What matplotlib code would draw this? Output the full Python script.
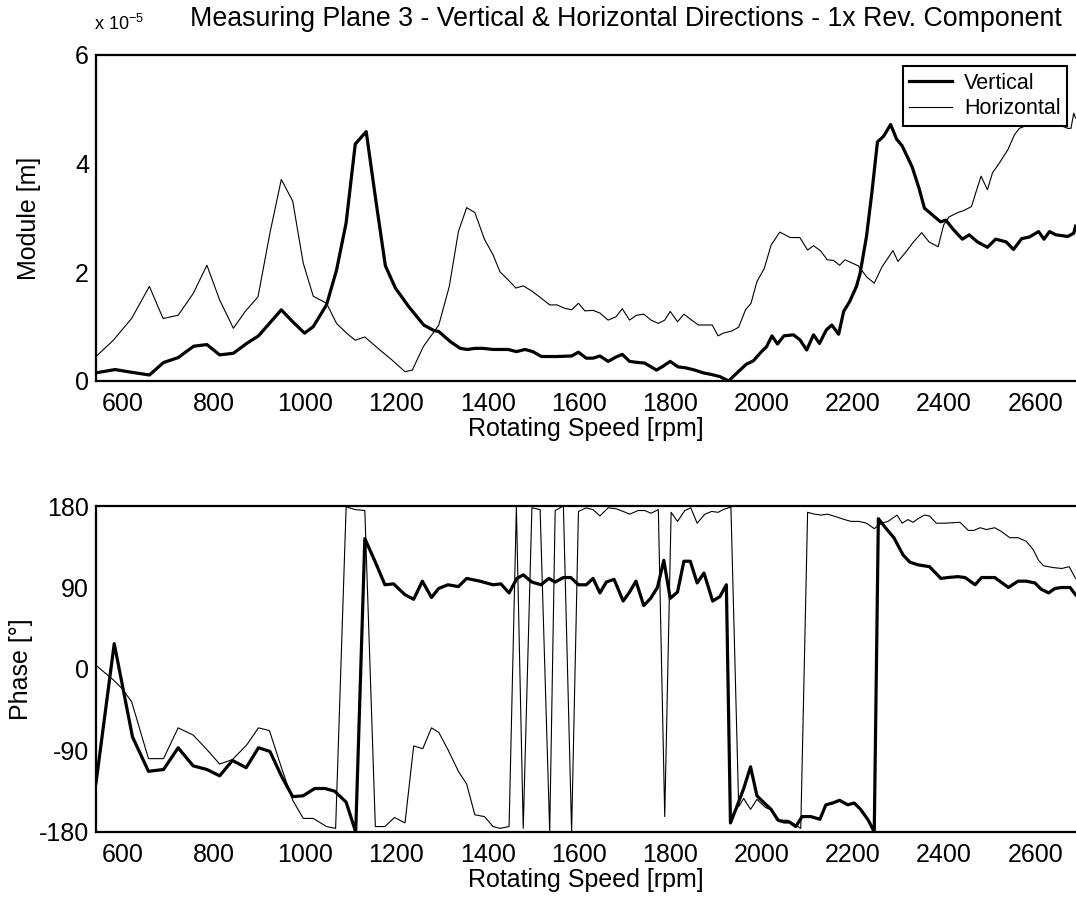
import matplotlib
matplotlib.use("Agg")
import matplotlib.pyplot as plt

plt.rcParams['font.family'] = ['Liberation Sans', 'DejaVu Sans']
plt.rcParams['axes.unicode_minus'] = False

# module, vertical direction (x 1e-5 m)
rpm_mod_v = [542, 584, 620, 659, 690, 722, 756, 785, 813, 843, 872, 898, 923, 948, 973, 999, 1018,
             1047, 1069, 1090, 1110, 1134, 1155, 1176, 1198, 1227, 1260, 1282, 1293, 1319, 1340,
             1356, 1372, 1390, 1412, 1445, 1463, 1482, 1499, 1518, 1552, 1584, 1599, 1616, 1631,
             1646, 1664, 1681, 1695, 1711, 1730, 1744, 1770, 1784, 1800, 1817, 1835, 1854, 1872,
             1890, 1909, 1928, 1949, 1967, 1982, 2000, 2011, 2023, 2035, 2049, 2070, 2084, 2099,
             2114, 2127, 2142, 2154, 2169, 2180, 2193, 2208, 2216, 2230, 2242, 2254, 2267, 2283,
             2296, 2308, 2330, 2345, 2357, 2374, 2392, 2404, 2420, 2440, 2455, 2473, 2495, 2513,
             2536, 2552, 2570, 2587, 2607, 2619, 2631, 2645, 2671, 2684, 2688]
mod_v = [0.15, 0.21, 0.16, 0.11, 0.34, 0.43, 0.64, 0.67, 0.48, 0.51, 0.69, 0.83, 1.07, 1.31, 1.09,
         0.88, 1.00, 1.40, 2.04, 2.91, 4.36, 4.59, 3.33, 2.12, 1.71, 1.37, 1.03, 0.93, 0.91, 0.72,
         0.60, 0.58, 0.60, 0.60, 0.58, 0.58, 0.54, 0.58, 0.54, 0.45, 0.45, 0.46, 0.53, 0.42, 0.42,
         0.46, 0.36, 0.44, 0.49, 0.36, 0.34, 0.33, 0.20, 0.27, 0.36, 0.26, 0.24, 0.20, 0.15, 0.12,
         0.08, 0.0, 0.17, 0.31, 0.37, 0.54, 0.63, 0.83, 0.68, 0.83, 0.85, 0.76, 0.57, 0.85, 0.69,
         0.94, 1.03, 0.86, 1.28, 1.46, 1.74, 1.98, 2.66, 3.48, 4.40, 4.50, 4.72, 4.45, 4.33, 3.94,
         3.55, 3.18, 3.06, 2.93, 2.96, 2.79, 2.61, 2.69, 2.56, 2.46, 2.61, 2.56, 2.42, 2.62, 2.65,
         2.75, 2.61, 2.75, 2.69, 2.66, 2.72, 2.85]

# module, horizontal direction (x 1e-5 m)
rpm_mod_h = [542, 580, 620, 659, 689, 722, 755, 785, 813, 843, 869, 897, 923, 948, 973, 996, 1018,
             1047, 1069, 1091, 1110, 1131, 1164, 1190, 1219, 1235, 1259, 1293, 1316, 1336, 1354,
             1372, 1393, 1412, 1427, 1445, 1462, 1478, 1496, 1515, 1536, 1552, 1568, 1584, 1599,
             1613, 1631, 1646, 1664, 1681, 1695, 1711, 1726, 1742, 1758, 1774, 1788, 1800, 1816,
             1830, 1847, 1862, 1892, 1905, 1916, 1935, 1950, 1965, 1977, 1990, 2006, 2021, 2040,
             2063, 2084, 2101, 2114, 2129, 2144, 2158, 2171, 2183, 2196, 2212, 2231, 2247, 2264,
             2288, 2299, 2315, 2333, 2351, 2367, 2387, 2399, 2411, 2430, 2444, 2460, 2470, 2481,
             2495, 2506, 2521, 2540, 2554, 2565, 2595, 2625, 2650, 2671, 2678, 2684, 2688]
mod_h = [0.45, 0.75, 1.15, 1.74, 1.15, 1.21, 1.61, 2.13, 1.49, 0.97, 1.28, 1.55, 2.72, 3.71, 3.31,
         2.17, 1.56, 1.43, 1.06, 0.88, 0.75, 0.81, 0.57, 0.39, 0.17, 0.20, 0.63, 1.03, 1.74, 2.75,
         3.19, 3.10, 2.61, 2.32, 2.01, 1.86, 1.71, 1.75, 1.66, 1.54, 1.40, 1.40, 1.34, 1.31, 1.43,
         1.29, 1.30, 1.25, 1.12, 1.18, 1.33, 1.12, 1.21, 1.23, 1.12, 1.06, 1.12, 1.28, 1.09, 1.23,
         1.12, 1.03, 1.03, 0.83, 0.88, 0.92, 0.99, 1.31, 1.43, 1.83, 2.07, 2.50, 2.74, 2.64, 2.64,
         2.41, 2.49, 2.40, 2.23, 2.22, 2.13, 2.23, 2.18, 2.12, 1.91, 1.80, 2.10, 2.40, 2.20, 2.36,
         2.56, 2.73, 2.56, 2.47, 2.87, 3.02, 3.10, 3.14, 3.21, 3.48, 3.77, 3.52, 3.83, 4.01, 4.26,
         4.53, 4.65, 4.75, 4.80, 4.72, 4.65, 4.65, 4.93, 4.84]

# phase, vertical direction (deg)
rpm_ph_v = [542, 582, 622, 657, 690, 722, 755, 785, 813, 841, 871, 898, 923, 949, 973, 996, 1021,
            1044, 1065, 1090, 1111, 1131, 1154, 1175, 1194, 1219, 1238, 1257, 1277, 1293, 1313,
            1336, 1354, 1383, 1412, 1429, 1447, 1464, 1478, 1497, 1517, 1534, 1548, 1566, 1582,
            1599, 1616, 1631, 1646, 1660, 1677, 1697, 1711, 1725, 1742, 1757, 1772, 1786, 1800,
            1816, 1830, 1844, 1859, 1874, 1893, 1909, 1923, 1932, 1946, 1961, 1976, 1990, 2006,
            2021, 2036, 2050, 2061, 2075, 2089, 2108, 2128, 2141, 2156, 2171, 2189, 2203, 2217,
            2234, 2247, 2256, 2270, 2290, 2310, 2325, 2343, 2368, 2393, 2408, 2430, 2446, 2468,
            2482, 2511, 2541, 2562, 2580, 2599, 2613, 2629, 2643, 2658, 2676, 2688]
ph_v = [-126, 28, -75, -113, -111, -87, -107, -111, -118, -101, -109, -87, -91, -119, -141, -140,
        -132, -132, -135, -147, -180, 144, 118, 93, 94, 82, 77, 97, 79, 89, 93, 91, 100, 97, 93,
        94, 84, 100, 104, 96, 93, 100, 96, 101, 101, 93, 93, 100, 84, 96, 99, 75, 85, 97, 70, 78,
        90, 120, 78, 85, 119, 119, 95, 106, 75, 80, 93, -170, -152, -132, -108, -140, -148, -155,
        -167, -169, -169, -174, -163, -163, -166, -150, -148, -145, -150, -148, -155, -167, -180,
        166, 157, 145, 126, 118, 115, 113, 100, 101, 102, 101, 93, 101, 101, 90, 97, 97, 95, 88,
        84, 89, 90, 90, 82]

# phase, horizontal direction (deg)
rpm_ph_h = [542, 580, 598, 620, 657, 690, 722, 755, 785, 813, 841, 872, 898, 922, 949, 973, 996,
            1018, 1047, 1067, 1090, 1110, 1131, 1154, 1175, 1196, 1219, 1238, 1258, 1277, 1293,
            1313, 1336, 1354, 1372, 1393, 1412, 1427, 1447, 1463, 1478, 1497, 1515, 1536, 1548,
            1566, 1584, 1599, 1616, 1631, 1646, 1664, 1681, 1697, 1711, 1730, 1744, 1758, 1774,
            1788, 1802, 1816, 1832, 1845, 1859, 1876, 1891, 1905, 1916, 1933, 1950, 1961, 1976,
            1990, 2009, 2023, 2039, 2057, 2071, 2086, 2101, 2116, 2131, 2145, 2164, 2182, 2196,
            2214, 2230, 2247, 2263, 2277, 2297, 2308, 2321, 2332, 2343, 2357, 2368, 2383, 2401,
            2435, 2453, 2465, 2479, 2493, 2511, 2525, 2544, 2562, 2580, 2595, 2607, 2618, 2639,
            2658, 2674, 2688]
ph_h = [4, -12, -21, -36, -99, -99, -65, -73, -89, -105, -100, -84, -65, -68, -110, -145, -165,
        -165, -174, -176, 179, 176, 175, -174, -174, -164, -170, -85, -88, -65, -70, -89, -113,
        -127, -161, -163, -174, -176, -174, 179, -176, 178, 176, -180, 175, 180, -180, 174, 178,
        176, 169, 178, 177, 174, 171, 175, 175, 172, 176, -163, 173, 163, 175, 178, 161, 171, 174,
        173, 176, 179, -152, -143, -155, -144, -153, -156, -167, -167, -171, -176, 173, 171, 170,
        171, 168, 165, 163, 163, 161, 155, 161, 163, 170, 161, 165, 162, 166, 170, 169, 161, 161,
        162, 153, 153, 156, 154, 156, 152, 145, 145, 141, 132, 120, 114, 112, 111, 113, 100]

xticks = [600, 800, 1000, 1200, 1400, 1600, 1800, 2000, 2200, 2400, 2600]
xlim = (542, 2689)

fig = plt.figure(figsize=(10.76, 9.06), dpi=100)
ax1 = fig.add_axes([0.0892, 0.5795, 0.9108, 0.3598])
ax2 = fig.add_axes([0.0892, 0.0817, 0.9108, 0.3598])

ax1.plot(rpm_mod_v, mod_v, color='black', lw=2.3, label='Vertical')
ax1.plot(rpm_mod_h, mod_h, color='black', lw=0.8, label='Horizontal')
ax1.set_ylim(0, 6)
ax1.set_yticks([0, 2, 4, 6])
ax1.set_ylabel('Module [m]', fontsize=18)
ax1.yaxis.set_label_coords(-0.056, 0.5)
leg = ax1.legend(loc='upper right', bbox_to_anchor=(0.991, 0.966), borderaxespad=0,
                 fontsize=15.5, handlelength=2.0, handletextpad=0.55, labelspacing=0.22,
                 borderpad=0.3, fancybox=False, framealpha=1, edgecolor='black')
leg.get_frame().set_linewidth(1.5)

ax2.plot(rpm_ph_v, ph_v, color='black', lw=2.3)
ax2.plot(rpm_ph_h, ph_h, color='black', lw=0.8)
ax2.set_ylim(-180, 180)
ax2.set_yticks([-180, -90, 0, 90, 180])
ax2.set_ylabel('Phase [°]', fontsize=18)
ax2.yaxis.set_label_coords(-0.064, 0.5)

for ax in (ax1, ax2):
    ax.set_xlim(*xlim)
    ax.set_xticks(xticks)
    ax.set_xlabel('Rotating Speed [rpm]', fontsize=18)
    ax.xaxis.set_label_coords(0.5, -0.11)
    ax.tick_params(length=0, labelsize=18)
    ax.tick_params(axis='x', pad=8)
    ax.tick_params(axis='y', pad=5)
    for s in ax.spines.values():
        s.set_linewidth(1.6)
    ax.spines['right'].set_visible(False)

fig.text(0.582, 0.979, 'Measuring Plane 3 - Vertical & Horizontal Directions - 1x Rev. Component',
         ha='center', va='center', fontsize=19.3)
fig.text(0.087, 0.974, r'x 10$^{\mathregular{-5}}$', ha='left', va='center', fontsize=13)

fig.savefig('out.png', dpi=100)
